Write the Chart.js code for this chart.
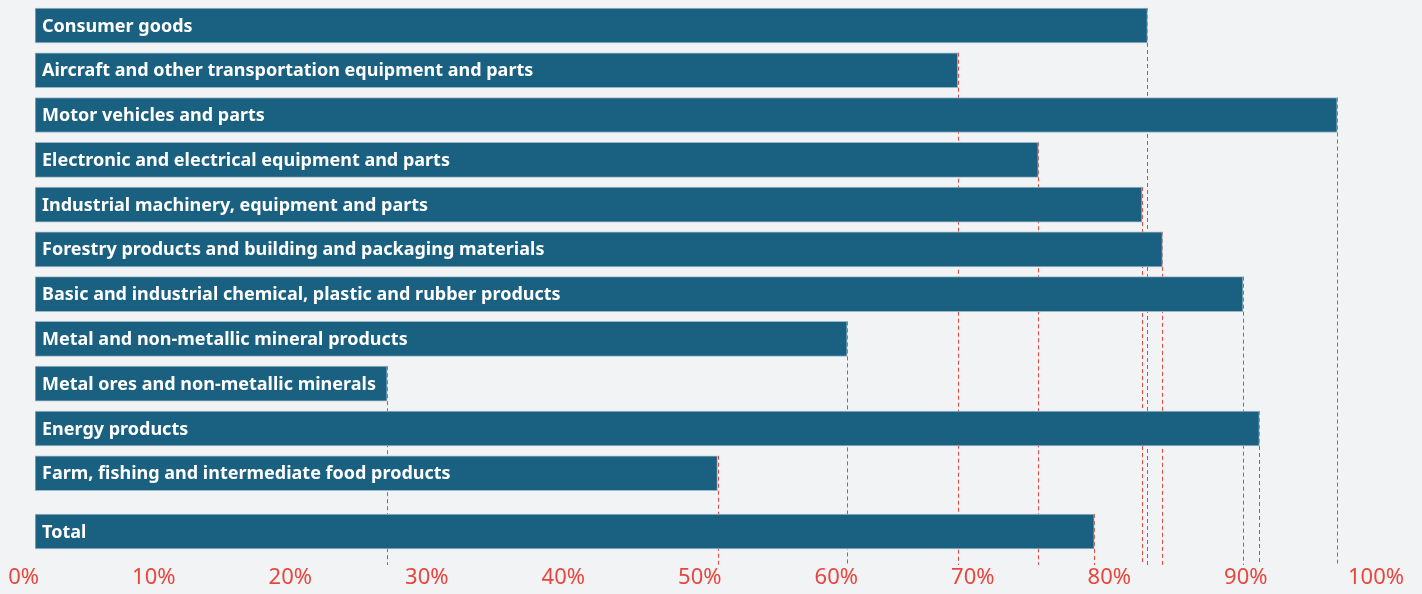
<!DOCTYPE html>
<html>
<head>
<meta charset="utf-8">
<script src="https://cdn.jsdelivr.net/npm/chart.js"></script>
<style>
  html, body { margin: 0; padding: 0; background: #f2f3f5; }
  #wrap { width: 1422px; height: 594px; position: relative; }
</style>
</head>
<body>
<div id="wrap"><canvas id="shareChart"></canvas></div>
<script>
  // categories, top to bottom; Total sits a little apart from the rest
  const categories = [
    'Consumer goods',
    'Aircraft and other transportation equipment and parts',
    'Motor vehicles and parts',
    'Electronic and electrical equipment and parts',
    'Industrial machinery, equipment and parts',
    'Forestry products and building and packaging materials',
    'Basic and industrial chemical, plastic and rubber products',
    'Metal and non-metallic mineral products',
    'Metal ores and non-metallic minerals',
    'Energy products',
    'Farm, fishing and intermediate food products',
    'Total'
  ];
  // share, percent
  const shares = [81.5, 67.6, 95.4, 73.5, 81.1, 82.6, 88.5, 59.5, 25.8, 89.7, 50.0, 77.6];
  const tickLabels = ['0%', '10%', '20%', '30%', '40%', '50%', '60%', '70%', '80%', '90%', '100%'];

  const red = '#e8453c';
  const barBlue = '#1a6080';

  // the Total row gets a small extra gap above it
  const slot = i => (i === categories.length - 1 ? i + 0.3 : i);

  const dropLines = {
    id: 'dropLines',
    beforeDatasetsDraw(chart) {
      const { ctx, chartArea } = chart;
      const bars = chart.getDatasetMeta(0).data;
      ctx.save();
      ctx.strokeStyle = red;
      ctx.lineWidth = 1;
      ctx.setLineDash([4, 3]);
      bars.forEach(bar => {
        const x = Math.round(bar.x) + 0.5;
        ctx.beginPath();
        ctx.moveTo(x, bar.y - bar.height / 2);
        ctx.lineTo(x, chartArea.bottom + 3);
        ctx.stroke();
      });
      ctx.restore();
    }
  };

  const barNames = {
    id: 'barNames',
    afterDatasetsDraw(chart) {
      const { ctx } = chart;
      const bars = chart.getDatasetMeta(0).data;
      ctx.save();
      ctx.fillStyle = '#ffffff';
      ctx.font = 'bold 18px "Noto Sans"';
      ctx.textBaseline = 'middle';
      bars.forEach((bar, i) => {
        ctx.fillText(categories[i], bar.base + 7, bar.y + 1);
      });
      ctx.restore();
    }
  };

  new Chart(document.getElementById('shareChart'), {
    type: 'bar',
    data: {
      datasets: [{
        data: shares.map((v, i) => ({ x: v, y: slot(i) })),
        backgroundColor: barBlue,
        borderColor: '#9db8c9',
        borderWidth: 1,
        borderSkipped: false,
        barThickness: 35
      }]
    },
    options: {
      indexAxis: 'y',
      responsive: true,
      maintainAspectRatio: false,
      animation: false,
      layout: { padding: { left: 35, right: 22, top: 0, bottom: 0 } },
      plugins: { legend: { display: false }, tooltip: { enabled: false } },
      scales: {
        y: {
          type: 'linear',
          display: false,
          offset: false,
          reverse: true,
          min: -0.569,
          max: 11.982
        },
        x: {
          min: 0,
          max: 100,
          grid: { display: false, drawTicks: false },
          border: { display: false },
          ticks: {
            stepSize: 10,
            align: 'end',
            labelOffset: 4,
            padding: 4,
            color: red,
            font: { family: 'Noto Sans', size: 22, lineHeight: '24px' },
            callback: (v, i) => tickLabels[i]
          }
        }
      }
    },
    plugins: [dropLines, barNames]
  });
</script>
</body>
</html>
